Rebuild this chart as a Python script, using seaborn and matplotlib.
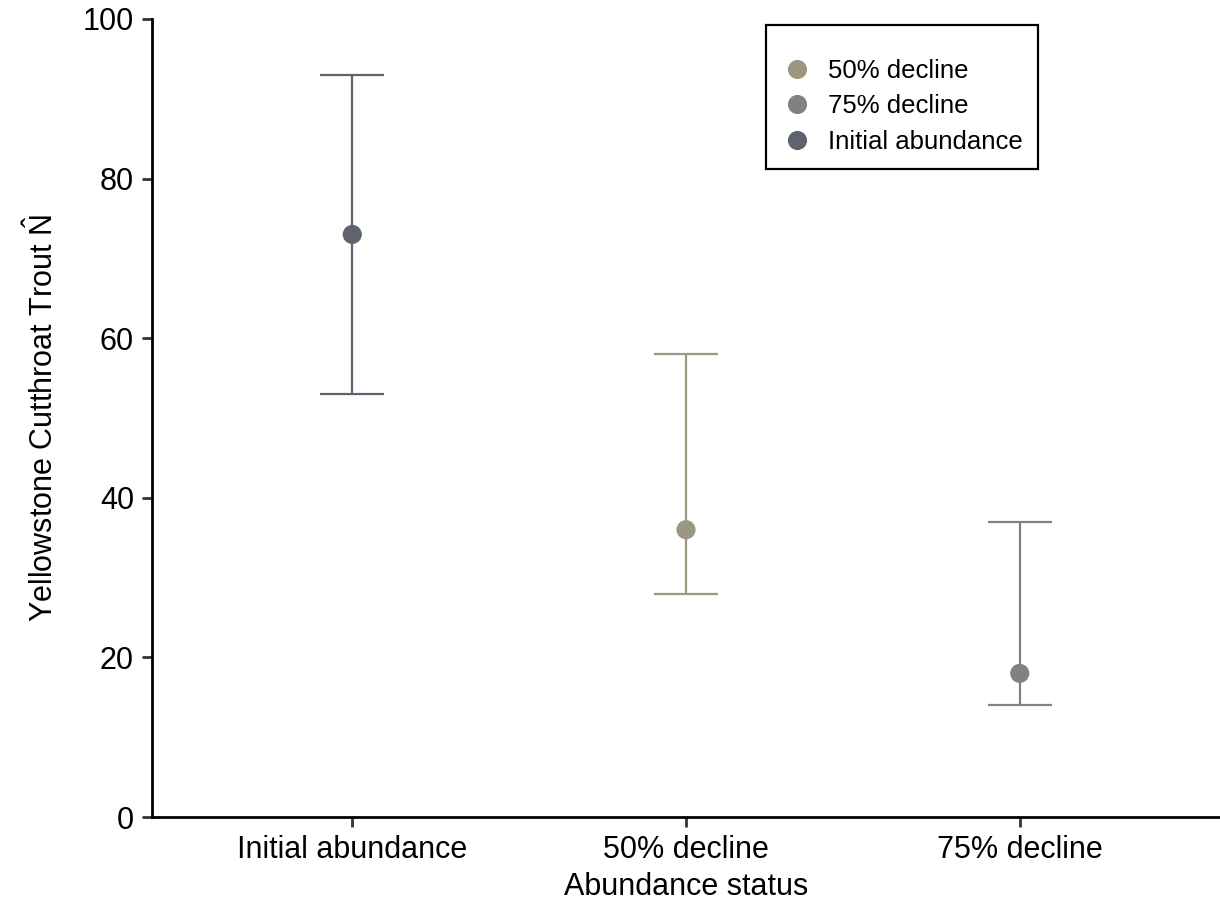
import matplotlib
matplotlib.use("Agg")
import matplotlib.pyplot as plt
import seaborn as sns
import pandas as pd

# data
status = ["Initial abundance", "50% decline", "75% decline"]
n_hat = [73, 36, 18]
lower = [53, 28, 14]
upper = [93, 58, 37]

hue_order = ["50% decline", "75% decline", "Initial abundance"]
colors = {"50% decline": "#9c9782", "75% decline": "#818181", "Initial abundance": "#5f636e"}

df = pd.DataFrame({"status": status, "N": n_hat, "lo": lower, "hi": upper})

sns.set_style("ticks")
plt.rcParams["font.family"] = ["Liberation Sans", "DejaVu Sans"]
plt.rcParams["mathtext.fontset"] = "custom"
plt.rcParams["mathtext.rm"] = "Liberation Sans"
plt.rcParams["mathtext.it"] = "Liberation Sans:italic"
plt.rcParams["text.color"] = "black"
plt.rcParams["axes.labelcolor"] = "black"
plt.rcParams["xtick.color"] = "black"
plt.rcParams["ytick.color"] = "black"

fig = plt.figure(figsize=(12.2, 9.02), dpi=100)
ax = fig.add_axes([0.1246, 0.0942, 0.8754, 0.8848])

# intervals first so the points sit on top
for i, row in df.iterrows():
    ax.errorbar(i, row["N"], yerr=[[row["N"] - row["lo"]], [row["hi"] - row["N"]]],
                fmt="none", ecolor=colors[row["status"]], elinewidth=1.6,
                capsize=23, capthick=1.6, zorder=2)

sns.scatterplot(data=df, x="status", y="N", hue="status", hue_order=hue_order,
                palette=colors, s=190, edgecolor="none", zorder=3, ax=ax)

ax.set_xlim(-0.6, 2.6)
ax.set_ylim(0, 100)
ax.set_yticks([0, 20, 40, 60, 80, 100])
ax.set_xlabel("Abundance status", fontsize=22, labelpad=5)
ax.set_ylabel(r"Yellowstone Cutthroat Trout $\hat{\mathrm{N}}$", fontsize=22, labelpad=16)
ax.tick_params(axis="both", labelsize=22, width=2, length=7, color="#333333", pad=6)

for side in ["top", "right"]:
    ax.spines[side].set_visible(False)
for side in ["left", "bottom"]:
    ax.spines[side].set_linewidth(2)
    ax.spines[side].set_color("black")

leg = ax.legend(loc="upper left", bbox_to_anchor=(0.575, 0.9925), borderaxespad=0,
                fontsize=18.5, title=" ", title_fontsize=6,
                frameon=True, fancybox=False, edgecolor="black", framealpha=1,
                borderpad=0.6, handlelength=1.2, handletextpad=0.62,
                labelspacing=0.45, markerscale=1.0)
leg.get_frame().set_linewidth(1.6)

fig.savefig("out.png", dpi=100)
